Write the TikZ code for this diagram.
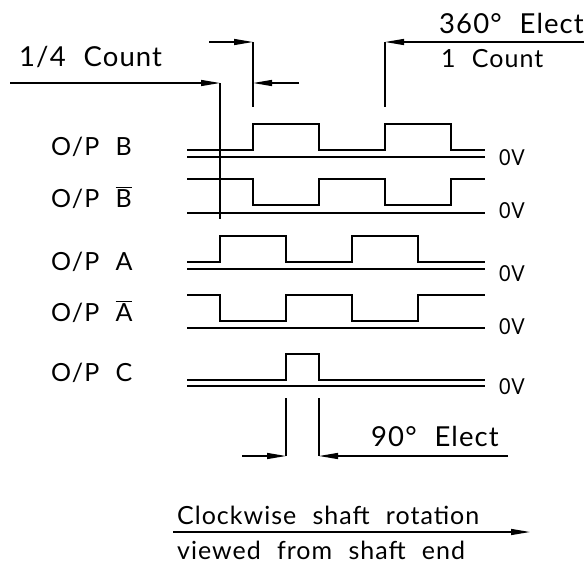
\documentclass[tikz,border=0pt]{standalone}
\usepackage{fontspec}
\setmainfont{Lato}[WordSpace=2.2,LetterSpace=4]
\usetikzlibrary{arrows.meta}
\tikzset{
  wave/.style={line width=1.3pt,line join=miter,line cap=butt},
  dim/.style={line width=1.3pt,-{Triangle[length=19pt,width=6pt]}},
  ext/.style={line width=1.3pt},
  lab/.style={inner sep=0pt,anchor=base west,font=\fontsize{25}{25}\selectfont},
  big/.style={lab,font=\fontsize{27.5}{28}\selectfont},
  zero/.style={inner sep=0pt,anchor=base west,font=\fontsize{22}{22}\selectfont},
}
\begin{document}
\begin{tikzpicture}[x=1pt,y=-1pt]
\useasboundingbox (0,0) rectangle (584,563);
% waveforms
\draw[wave] (187,150) -- (253,150) -- (253,124) -- (319,124) -- (319,150) -- (385,150) -- (385,124) -- (451,124) -- (451,150) -- (485,150);
\draw[wave] (187,157) -- (485,157);
\draw[wave] (187,179) -- (253,179) -- (253,205) -- (319,205) -- (319,179) -- (385,179) -- (385,205) -- (451,205) -- (451,179) -- (485,179);
\draw[wave] (187,213) -- (485,213);
\draw[wave] (187,262) -- (220,262) -- (220,236) -- (286,236) -- (286,262) -- (352,262) -- (352,236) -- (418,236) -- (418,262) -- (485,262);
\draw[wave] (187,269) -- (485,269);
\draw[wave] (187,295) -- (220,295) -- (220,321) -- (286,321) -- (286,295) -- (352,295) -- (352,321) -- (418,321) -- (418,295) -- (485,295);
\draw[wave] (187,328) -- (485,328);
\draw[wave] (187,380) -- (286,380) -- (286,354) -- (319,354) -- (319,380) -- (485,380);
\draw[wave] (187,386) -- (485,386);
% named dimension points
\coordinate (qtop) at (220,83);
\coordinate (qbot) at (220,219);
\coordinate (qfree) at (10,83);
\coordinate (btop) at (253,42);
\coordinate (bmid) at (253,83);
\coordinate (bbot) at (253,107);
\coordinate (bfreeL) at (209,42);
\coordinate (bfreeR) at (299,83);
\coordinate (ctop) at (385,42);
\coordinate (cbot) at (385,107);
\coordinate (cfree) at (584,42);
\coordinate (ntop) at (286,398);
\coordinate (nbot) at (286,456);
\coordinate (mtop) at (319,398);
\coordinate (mbot) at (319,456);
\coordinate (nfree) at (242,456);
\coordinate (mfree) at (508,456);
\coordinate (rotL) at (173,532);
\coordinate (rotR) at (530,532);
\draw[ext] (qtop) -- (qbot);
\draw[ext] (btop) -- (bbot);
\draw[ext] (ctop) -- (cbot);
\draw[ext] (ntop) -- (nbot);
\draw[ext] (mtop) -- (mbot);
\draw[dim] (qfree) -- (qtop);
\draw[dim] (bfreeL) -- (btop);
\draw[dim] (bfreeR) -- (bmid);
\draw[dim] (cfree) -- (ctop);
\draw[dim] (nfree) -- (nbot);
\draw[dim] (mfree) -- (mbot);
\draw[dim] (rotL) -- (rotR);
% labels
\node[big] (t1) at (19,66) {1/4 Count};
\node[big] (t2) at (439,33) {360° Elect};
\node[lab] (t3) at (441,67) {1 Count};
\node[lab] (o1) at (51,155) {O/P B};
\node[lab] (o2) at (51,207) {O/P $\overline{\hbox{B}}$};
\node[lab] (o3) at (51,270) {O/P A};
\node[lab] (o4) at (51,321) {O/P $\overline{\hbox{A}}$};
\node[lab] (o5) at (51,381) {O/P C};
\node[zero] (z1) at (499,165) {\scalebox{0.9}[1]{0V}};
\node[zero] (z2) at (499,218) {\scalebox{0.9}[1]{0V}};
\node[zero] (z3) at (499,281) {\scalebox{0.9}[1]{0V}};
\node[zero] (z4) at (499,334) {\scalebox{0.9}[1]{0V}};
\node[zero] (z5) at (499,394) {\scalebox{0.9}[1]{0V}};
\node[big] (t4) at (371,446) {90° Elect};
\node[lab] (t5) at (177,524) {Clockwise shaft rotation};
\node[lab] (t6) at (177,559) {viewed from shaft end};
\end{tikzpicture}
\end{document}
